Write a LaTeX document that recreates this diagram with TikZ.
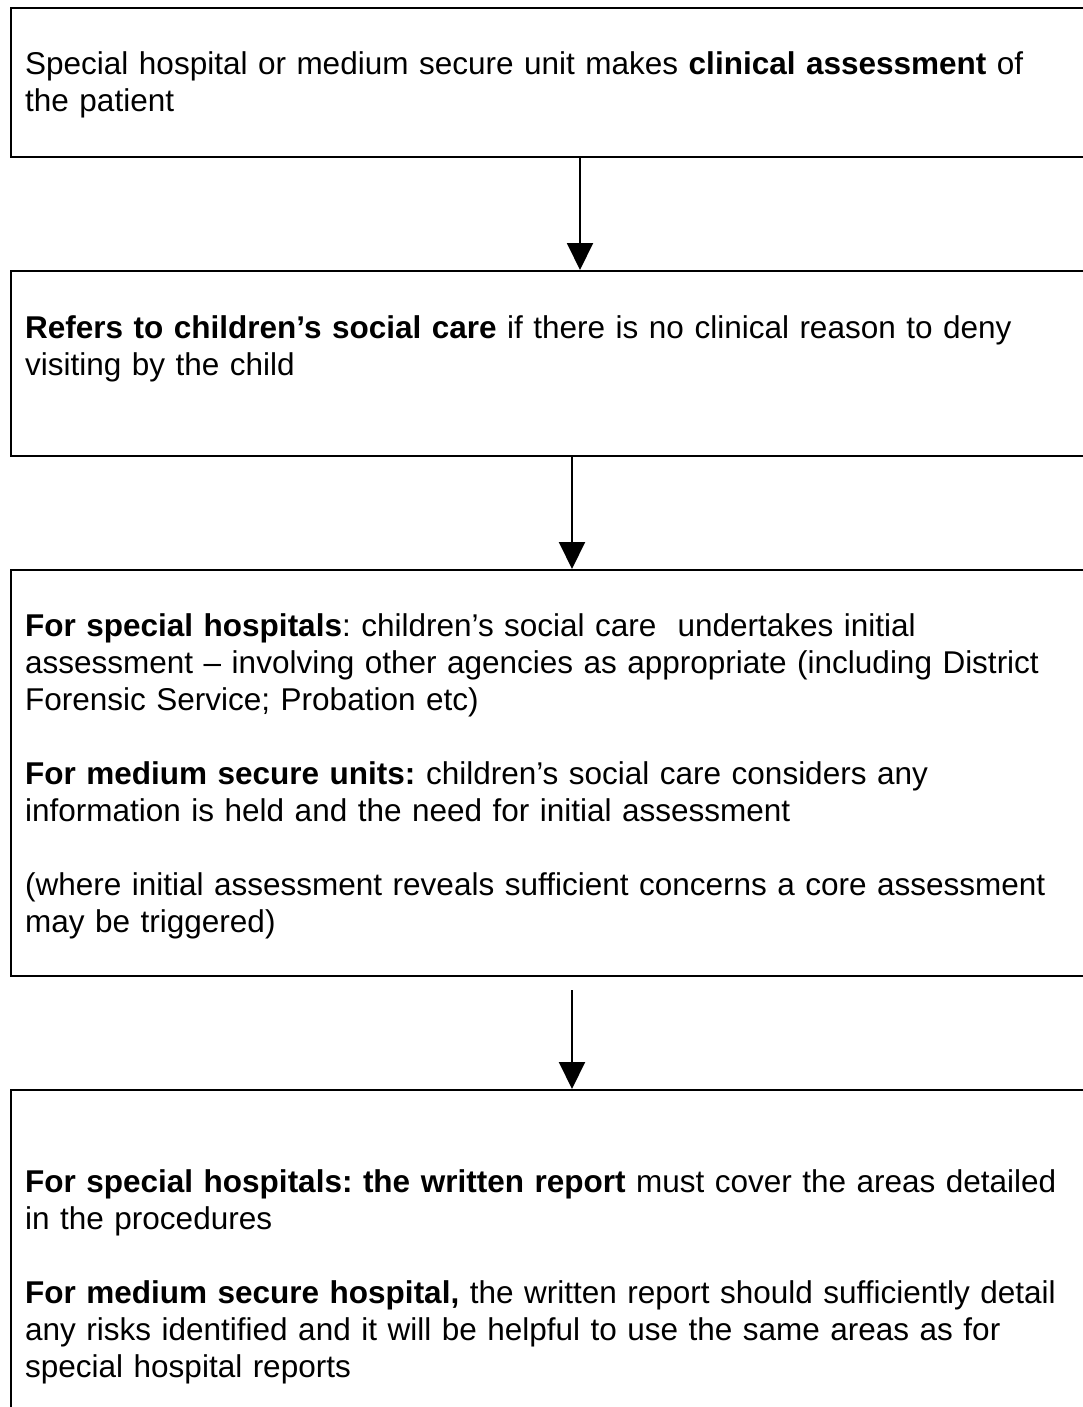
\documentclass[tikz,border=0pt]{standalone}
\usepackage{fontspec}
\setmainfont{Liberation Sans}
\usetikzlibrary{positioning,arrows.meta}

\newcommand\flowfont{\fontsize{31.5pt}{37pt}\selectfont\frenchspacing}

\tikzset{
  flowbox/.style={draw, line width=2pt, minimum width=1082pt, inner sep=0pt},
  flowtext/.style={anchor=base west, inner sep=0pt, align=left, text width=1070pt, font=\flowfont},
  flowarrow/.style={line width=2pt, -{Triangle[width=26pt,length=27pt]}}
}

\begin{document}
\begin{tikzpicture}
  \useasboundingbox (0,0) rectangle (1083pt,-1407pt);

  % the four boxes
  \node[flowbox, anchor=north west, minimum height=149pt] (assess) at (10pt,-7pt) {};
  \node[flowbox, minimum height=185pt, below=112pt of assess] (refer) {};
  \node[flowbox, minimum height=406pt, below=112pt of refer] (initial) {};
  \node[flowbox, minimum height=340pt, below=112pt of initial] (report) {};

  % texts
  \node[flowtext] (assesstxt) at ([xshift=15pt,yshift=-68pt]assess.north west)
    {Special hospital or medium secure unit makes \textbf{clinical assessment} of\\
     the patient};
  \node[flowtext] (refertxt) at ([xshift=15pt,yshift=-68pt]refer.north west)
    {\textbf{Refers to children’s social care} if there is no clinical reason to deny\\
     visiting by the child};
  \node[flowtext] (initialtxt) at ([xshift=15pt,yshift=-67pt]initial.north west)
    {\textbf{For special hospitals}: children’s social care\ \ undertakes initial\\
     assessment – involving other agencies as appropriate (including District\\
     Forensic Service; Probation etc)\\[37pt]
     \textbf{For medium secure units:} children’s social care considers any\\
     information is held and the need for initial assessment\\[37pt]
     (where initial assessment reveals sufficient concerns a core assessment\\
     may be triggered)};
  \node[flowtext] (reporttxt) at ([xshift=15pt,yshift=-103pt]report.north west)
    {\textbf{For special hospitals: the written report} must cover the areas detailed\\
     in the procedures\\[37pt]
     \textbf{For medium secure hospital,} the written report should sufficiently detail\\
     any risks identified and it will be helpful to use the same areas as for\\
     special hospital reports};

  % arrows
  \draw[flowarrow] ([xshift=28pt]assess.south) -- ([xshift=28pt]refer.north);
  \draw[flowarrow] ([xshift=20pt]refer.south) -- ([xshift=20pt]initial.north);
  \draw[flowarrow, shorten <=13pt] ([xshift=20pt]initial.south) -- ([xshift=20pt]report.north);
\end{tikzpicture}
\end{document}
